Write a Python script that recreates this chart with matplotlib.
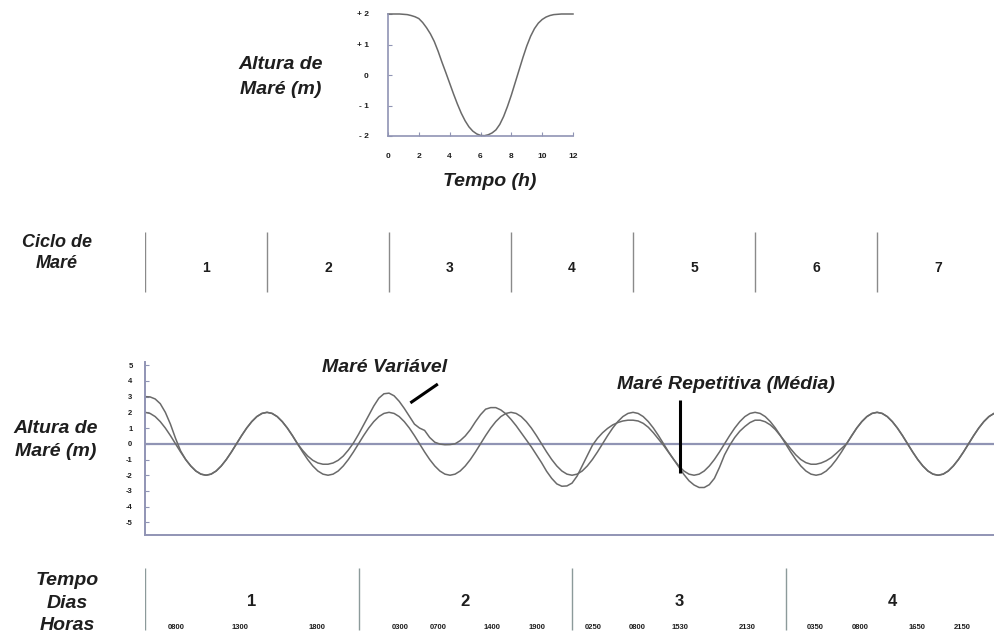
import numpy as np
import matplotlib.pyplot as plt

plt.rcParams['font.family'] = ['Liberation Sans', 'DejaVu Sans']

# --- curva de uma maré (12 h) ---
tempo_curva = np.arange(0, 12.25, 0.25)
altura_curva = [2.00, 2.00, 2.00, 2.00, 1.99, 1.98, 1.95, 1.91, 1.85, 1.72, 1.55, 1.35,
                1.10, 0.78, 0.42, 0.08, -0.27, -0.62, -0.95, -1.25, -1.50, -1.70, -1.84, -1.93,
                -1.98, -1.99, -1.96, -1.90, -1.80, -1.62, -1.36, -1.03, -0.66, -0.25, 0.16, 0.57,
                0.95, 1.27, 1.52, 1.70, 1.82, 1.90, 1.95, 1.98, 1.99, 2.00, 2.00, 2.00,
                2.00]

# --- série de marés (de meia em meia hora) ---
horas = np.arange(0, 84.5, 0.5)
mare_media = [
    2.00, 1.93, 1.73, 1.41, 1.00, 0.52, 0.00, -0.52, -1.00, -1.41, -1.73, -1.93,
    -2.00, -1.93, -1.73, -1.41, -1.00, -0.52, 0.00, 0.52, 1.00, 1.41, 1.73, 1.93,
    2.00, 1.93, 1.73, 1.41, 1.00, 0.52, 0.00, -0.52, -1.00, -1.41, -1.73, -1.93,
    -2.00, -1.93, -1.73, -1.41, -1.00, -0.52, 0.00, 0.52, 1.00, 1.41, 1.73, 1.93,
    2.00, 1.93, 1.73, 1.41, 1.00, 0.52, 0.00, -0.52, -1.00, -1.41, -1.73, -1.93,
    -2.00, -1.93, -1.73, -1.41, -1.00, -0.52, 0.00, 0.52, 1.00, 1.41, 1.73, 1.93,
    2.00, 1.93, 1.73, 1.41, 1.00, 0.52, 0.00, -0.52, -1.00, -1.41, -1.73, -1.93,
    -2.00, -1.93, -1.73, -1.41, -1.00, -0.52, 0.00, 0.52, 1.00, 1.41, 1.73, 1.93,
    2.00, 1.93, 1.73, 1.41, 1.00, 0.52, 0.00, -0.52, -1.00, -1.41, -1.73, -1.93,
    -2.00, -1.93, -1.73, -1.41, -1.00, -0.52, 0.00, 0.52, 1.00, 1.41, 1.73, 1.93,
    2.00, 1.93, 1.73, 1.41, 1.00, 0.52, 0.00, -0.52, -1.00, -1.41, -1.73, -1.93,
    -2.00, -1.93, -1.73, -1.41, -1.00, -0.52, 0.00, 0.52, 1.00, 1.41, 1.73, 1.93,
    2.00, 1.93, 1.73, 1.41, 1.00, 0.52, 0.00, -0.52, -1.00, -1.41, -1.73, -1.93,
    -2.00, -1.93, -1.73, -1.41, -1.00, -0.52, 0.00, 0.52, 1.00, 1.41, 1.73, 1.93,
    2.00]
mare_variavel = [
    3.00, 2.98, 2.85, 2.55, 2.00, 1.25, 0.35, -0.45, -1.00, -1.41, -1.73, -1.93,
    -2.00, -1.93, -1.73, -1.41, -1.00, -0.52, 0.00, 0.52, 1.00, 1.41, 1.73, 1.93,
    2.00, 1.93, 1.73, 1.41, 1.00, 0.52, 0.00, -0.42, -0.78, -1.05, -1.22, -1.30,
    -1.30, -1.22, -1.05, -0.78, -0.40, 0.05, 0.60, 1.20, 1.80, 2.40, 2.90, 3.18,
    3.22, 3.05, 2.70, 2.25, 1.75, 1.25, 1.00, 0.85, 0.40, 0.10, -0.02, -0.06,
    -0.05, 0.00, 0.20, 0.50, 0.90, 1.40, 1.85, 2.20, 2.30, 2.30, 2.15, 1.90,
    1.55, 1.15, 0.70, 0.25, -0.20, -0.70, -1.20, -1.75, -2.20, -2.55, -2.70, -2.68,
    -2.50, -2.05, -1.40, -0.75, -0.10, 0.35, 0.70, 0.98, 1.20, 1.35, 1.45, 1.50,
    1.50, 1.45, 1.30, 1.05, 0.70, 0.30, -0.10, -0.55, -1.00, -1.48, -1.95, -2.35,
    -2.62, -2.78, -2.78, -2.60, -2.20, -1.50, -0.70, -0.10, 0.40, 0.80, 1.10, 1.35,
    1.50, 1.50, 1.40, 1.20, 0.90, 0.50, 0.10, -0.32, -0.70, -1.00, -1.20, -1.30,
    -1.30, -1.22, -1.08, -0.88, -0.60, -0.30, 0.00, 0.50, 1.00, 1.41, 1.73, 1.93,
    2.00, 1.93, 1.73, 1.41, 1.00, 0.52, 0.00, -0.52, -1.00, -1.41, -1.73, -1.93,
    -2.00, -1.93, -1.73, -1.41, -1.00, -0.52, 0.00, 0.52, 1.00, 1.41, 1.73, 1.93,
    2.00]

# --- ciclos e dias ---
ciclos = [1, 2, 3, 4, 5, 6, 7]
ciclo_inicio = [0, 12, 24, 36, 48, 60, 72]
dias = [1, 2, 3, 4]
dia_inicio = [0, 21, 42, 63]
horas_pos = [3.1, 9.3, 16.9, 25.1, 28.8, 34.1, 38.6,
             44.1, 48.4, 52.6, 59.2, 65.9, 70.3, 75.9, 80.4]
horas_txt = ['0800', '1300', '1800', '0300', '0700', '1400', '1900',
             '0250', '0800', '1530', '2130', '0350', '0800', '1650', '2150']

y_ticks = [5, 4, 3, 2, 1, 0, -1, -2, -3, -4, -5]

eixo_cor = '#9094b4'
curva_cor = '#6a6a6a'
txt_cor = '#1e1e1e'
bi = dict(fontweight='bold', fontstyle='italic', color=txt_cor)

fig = plt.figure(figsize=(9.94, 6.39), dpi=100)
XMAX = 83.5
L, W = 145 / 994, 849 / 994

# ---------- gráfico superior ----------
ax0 = fig.add_axes([388 / 994, 1 - 136 / 639, 185 / 994, 122 / 639])
ax0.plot(tempo_curva, altura_curva, color=curva_cor, lw=1.1, clip_on=False)
ax0.set_xlim(0, 12)
ax0.set_ylim(-2, 2)
for s in ['top', 'right']:
    ax0.spines[s].set_visible(False)
for s in ['left', 'bottom']:
    ax0.spines[s].set_color(eixo_cor)
    ax0.spines[s].set_linewidth(1.2)
ax0.set_xticks([0, 2, 4, 6, 8, 10, 12])
ax0.set_yticks([2, 1, 0, -1, -2])
ax0.set_yticklabels(['+ 2', '+ 1', '0', '- 1', '- 2'])
ax0.tick_params(axis='both', direction='in', length=3, color=eixo_cor,
                labelsize=6, labelcolor=txt_cor)
ax0.tick_params(axis='y', pad=14)
ax0.tick_params(axis='x', pad=12)
for lab in ax0.get_xticklabels() + ax0.get_yticklabels():
    lab.set_fontweight('bold')
fig.text(281 / 994, 1 - 77 / 639, 'Altura de\nMaré (m)', ha='center', va='center',
         fontsize=14, linespacing=1.6, **bi)
fig.text(490 / 994, 1 - 182 / 639, 'Tempo (h)', ha='center', va='center',
         fontsize=14, **bi)

# ---------- ciclos de maré ----------
axc = fig.add_axes([L, 1 - 296 / 639, W, 68 / 639])
axc.set_xlim(0, XMAX)
axc.set_ylim(0, 1)
axc.axis('off')
axc.vlines(ciclo_inicio, 0.06, 0.94, color='#8a8a8a', lw=1.0)
for c, x0 in zip(ciclos, ciclo_inicio):
    axc.text(x0 + 6, 0.41, str(c), ha='center', va='center', fontsize=10,
             fontweight='bold', color=txt_cor)
fig.text(57 / 994, 1 - 253 / 639, 'Ciclo de\nMaré', ha='center', va='center',
         fontsize=13, linespacing=1.25, **bi)

# ---------- série principal ----------
ax = fig.add_axes([L, 1 - 535 / 639, W, 173 / 639])
ax.axhline(0, color=eixo_cor, lw=1.6, zorder=1)
ax.plot(horas, mare_media, color=curva_cor, lw=1.1, zorder=2)
ax.plot(horas, mare_variavel, color=curva_cor, lw=1.1, zorder=2)
ax.set_xlim(0, XMAX)
ax.set_ylim(-5.8, 5.2)
for s in ['top', 'right']:
    ax.spines[s].set_visible(False)
for s in ['left', 'bottom']:
    ax.spines[s].set_color(eixo_cor)
    ax.spines[s].set_linewidth(1.4)
ax.set_xticks([])
ax.set_yticks(y_ticks)
ax.set_yticklabels([str(v) for v in y_ticks])
ax.tick_params(axis='y', direction='in', length=3, color=eixo_cor,
               labelsize=5.5, labelcolor=txt_cor, pad=9)
for lab in ax.get_yticklabels():
    lab.set_fontweight('bold')
fig.text(56 / 994, 1 - 440 / 639, 'Altura de\nMaré (m)', ha='center', va='center',
         fontsize=14, linespacing=1.5, **bi)

# anotações
ax.text(23.6, 4.84, 'Maré Variável', ha='center', va='center', fontsize=14,
        clip_on=False, **bi)
ax.plot([26.1, 28.8], [2.6, 3.8], color='black', lw=2.2, solid_capstyle='butt')
ax.text(57.1, 3.8, 'Maré Repetitiva (Média)', ha='center', va='center', fontsize=14,
        clip_on=False, **bi)
ax.plot([52.6, 52.6], [2.8, -1.85], color='black', lw=2.2, solid_capstyle='butt')

# ---------- dias e horas ----------
axd = fig.add_axes([L, 0, W, 79 / 639])
axd.set_xlim(0, XMAX)
axd.set_ylim(0, 1)
axd.axis('off')
axd.vlines(dia_inicio, 0.114, 0.9, color='#8c9a9a', lw=1.0)
for d, x0 in zip(dias, dia_inicio):
    axd.text(x0 + 10.5, 0.48, str(d), ha='center', va='center', fontsize=12,
             fontweight='bold', color=txt_cor)
for x, t in zip(horas_pos, horas_txt):
    axd.text(x, 0.15, t, ha='center', va='center', fontsize=5.5,
             fontweight='bold', color=txt_cor)
fig.text(67 / 994, 1 - 603 / 639, 'Tempo\nDias\nHoras', ha='center', va='center',
         fontsize=14, linespacing=1.4, **bi)

fig.savefig('out.png', dpi=100)
